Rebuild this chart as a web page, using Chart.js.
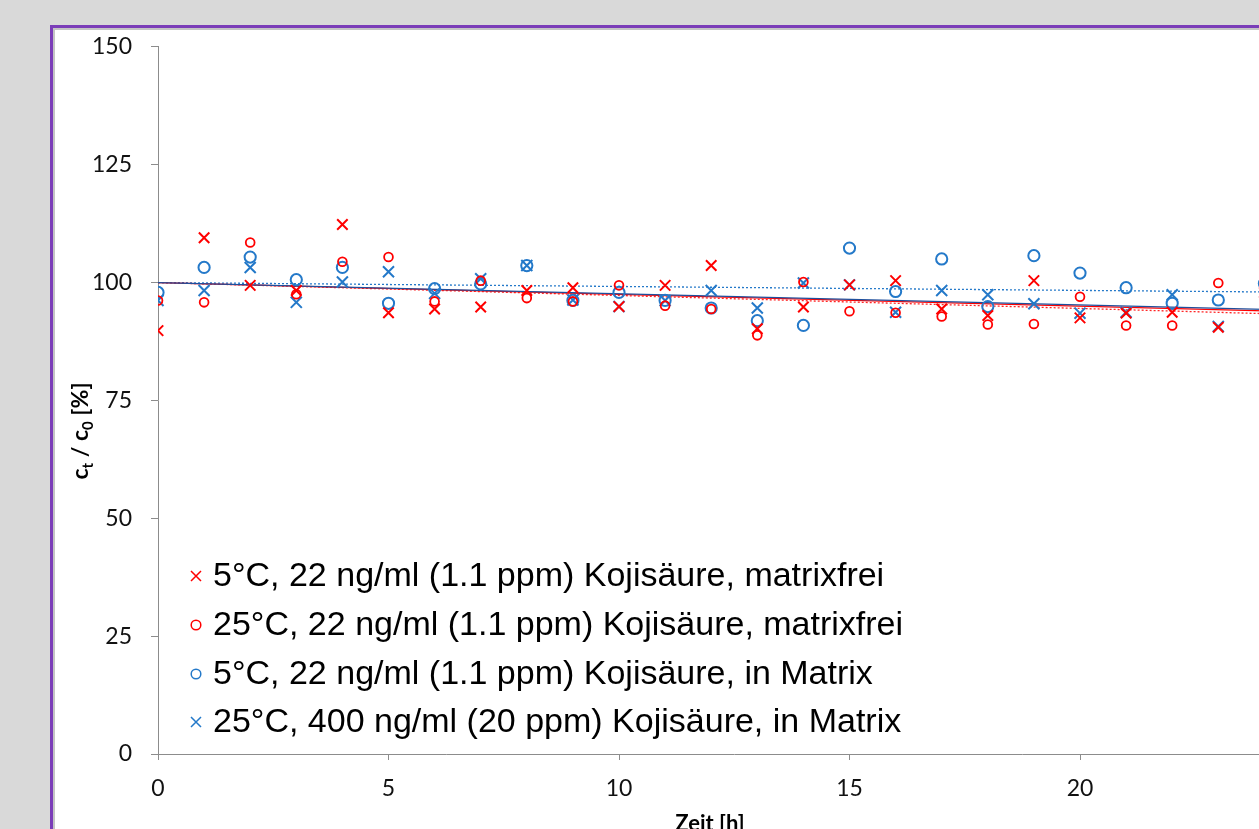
<!DOCTYPE html>
<html>
<head>
<meta charset="utf-8">
<script src="https://cdn.jsdelivr.net/npm/chart.js@4.4.1/dist/chart.umd.min.js"></script>
<style>
	html, body { margin: 0; padding: 0; width: 1259px; height: 829px; overflow: hidden; background: #d9d9d9; }
	#frame { position: absolute; left: 50px; top: 25px; width: 1400px; height: 1000px; box-sizing: border-box; border: 3px solid #7b3db8; background: #fff; }
	#inner { position: absolute; left: 0; top: 0; right: 0; bottom: 0; border: 2px solid #c4c4c4; }
	#wrap { position: absolute; left: 55px; top: 14px; width: 1300px; height: 846px; }
</style>
</head>
<body>
<div id="frame"><div id="inner"></div></div>
<div id="wrap"><canvas id="chart" width="1300" height="846"></canvas></div>
<script>
// Data (hours 0..24)
const hours = [0, 1, 2, 3, 4, 5, 6, 7, 8, 9, 10, 11, 12, 13, 14, 15, 16, 17, 18, 19, 20, 21, 22, 23, 24];
const red5Free = [89.8, 109.5, 99.4, 98.3, 112.3, 93.6, 94.4, 94.8, 98.3, 98.9, 94.9, 99.4, 103.6, 90.2, 94.8, 99.5, 100.4, 94.4, 93.0, 100.4, 92.5, 93.5, 93.7, 90.5, 97.9];
const red25Free = [96.2, 95.8, 108.5, 97.5, 104.4, 105.4, 96.0, 100.4, 96.7, 96.0, 99.4, 95.1, 94.4, 88.8, 100.1, 93.9, 93.6, 92.8, 91.1, 91.2, 97.0, 90.9, 90.9, 99.9, null];
const blue5Matrix = [97.9, 103.2, 105.4, 100.6, 103.2, 95.6, 98.7, 99.7, 103.6, 96.2, 97.9, 96.2, 94.6, 91.9, 90.9, 107.3, 98.1, 105.0, 94.9, 105.7, 102.0, 98.9, 95.6, 96.3, 99.8];
const blue25Matrix = [96.2, 98.3, 103.2, 95.8, 100.1, 102.3, 97.7, 100.8, 103.6, 96.3, 94.9, 96.2, 98.3, 94.6, 99.9, 99.5, 93.7, 98.3, 97.4, 95.5, 93.5, 93.7, 97.4, 90.7, null];
const labels = [
	'5°C, 22 ng/ml (1.1 ppm) Kojisäure, matrixfrei',
	'25°C, 22 ng/ml (1.1 ppm) Kojisäure, matrixfrei',
	'5°C, 22 ng/ml (1.1 ppm) Kojisäure, in Matrix',
	'25°C, 400 ng/ml (20 ppm) Kojisäure, in Matrix'
];
// Trend lines: start and end
const trendHours = [0, 24];
const trendRed5 = [100, 94.0];
const trendRed25 = [100, 93.4];
const trendBlue5 = [100, 98.0];
const trendBlue25 = [100, 94.3];
const yTicks = [0, 25, 50, 75, 100, 125, 150];
const xTicks = [0, 5, 10, 15, 20, 25];

const RED = '#ff0000';
const BLUE = '#2479c9';

let points = (arr) => hours.map((h, i) => ({x: h, y: arr[i]})).filter(p => p.y !== null);
let trend = (arr) => trendHours.map((h, i) => ({x: h, y: arr[i]}));

let scatterSet = (label, arr, color, style, radius, width) => ({
	type: 'scatter',
	label: label,
	data: points(arr),
	pointStyle: style,
	pointRadius: radius,
	pointBorderWidth: width,
	borderColor: color,
	pointBackgroundColor: 'rgba(0,0,0,0)',
	backgroundColor: 'rgba(0,0,0,0)',
	order: 1
});
let trendSet = (arr, color, dash, order) => ({
	type: 'line',
	label: '',
	data: trend(arr),
	borderColor: color,
	borderWidth: 1.3,
	borderDash: dash,
	pointRadius: 0,
	fill: false,
	order: order
});

const series = [
	scatterSet(labels[0], red5Free, RED, 'crossRot', 7.4, 2),
	scatterSet(labels[1], red25Free, RED, 'circle', 4.4, 1.8),
	scatterSet(labels[2], blue5Matrix, BLUE, 'circle', 5.6, 2),
	scatterSet(labels[3], blue25Matrix, BLUE, 'crossRot', 7.8, 2)
];

// Legend inside the plot, bottom left
const innerLegend = {
	id: 'innerLegend',
	afterDraw(chart) {
		const ctx = chart.ctx;
		const rows = [562, 611, 660, 708];
		ctx.save();
		series.forEach((ds, i) => {
			let x = 141, y = rows[i];
			ctx.strokeStyle = ds.borderColor;
			ctx.lineWidth = 1.5;
			ctx.beginPath();
			if (ds.pointStyle === 'circle') {
				ctx.arc(x, y, 4.8, 0, Math.PI * 2);
			} else {
				ctx.moveTo(x - 5, y - 5); ctx.lineTo(x + 5, y + 5);
				ctx.moveTo(x - 5, y + 5); ctx.lineTo(x + 5, y - 5);
			}
			ctx.stroke();
			ctx.fillStyle = '#000';
			ctx.font = '34px "Liberation Sans", Arial, sans-serif';
			ctx.textBaseline = 'middle';
			ctx.textAlign = 'left';
			ctx.fillText(ds.label, 158, y + 1);
		});
		ctx.restore();
	}
};

// Axis titles (the y title has subscripts)
const axisTitles = {
	id: 'axisTitles',
	afterDraw(chart) {
		const ctx = chart.ctx;
		const big = 'bold 23px Lato, sans-serif';
		const small = 'bold 15px Lato, sans-serif';
		const parts = [['c', big, 0], ['t', small, 5], [' / c', big, 0], ['0', small, 5], [' [%]', big, 0]];
		ctx.save();
		ctx.fillStyle = '#000';
		let total = 0;
		parts.forEach(p => { ctx.font = p[1]; total += ctx.measureText(p[0]).width; });
		ctx.translate(32.5, 417);
		ctx.rotate(-Math.PI / 2);
		ctx.textBaseline = 'alphabetic';
		let x = -total / 2;
		parts.forEach(p => {
			ctx.font = p[1];
			ctx.fillText(p[0], x, p[2]);
			x += ctx.measureText(p[0]).width;
		});
		ctx.restore();

		ctx.save();
		ctx.fillStyle = '#000';
		ctx.font = 'bold 22px Lato, sans-serif';
		ctx.textAlign = 'center';
		ctx.textBaseline = 'alphabetic';
		ctx.fillText('Zeit [h]', 655, 817);
		ctx.restore();
	}
};

new Chart(document.getElementById('chart'), {
	type: 'scatter',
	data: {
		datasets: series.concat([
			trendSet(trendRed25, 'rgba(255,0,0,0.85)', [2, 2], 5),
			trendSet(trendBlue5, BLUE, [2, 2], 4),
			trendSet(trendRed5, RED, [], 3),
			trendSet(trendBlue25, '#1f4f9c', [], 2)
		])
	},
	options: {
		responsive: false,
		animation: false,
		events: [],
		layout: {
			padding: {left: 0, top: 0, right: 44.5, bottom: 0}
		},
		plugins: {
			legend: {display: false},
			tooltip: {enabled: false}
		},
		scales: {
			x: {
				type: 'linear',
				min: 0,
				max: 25,
				afterFit: (scale) => { scale.height = 106; },
				afterBuildTicks: (scale) => { scale.ticks = xTicks.map(v => ({value: v})); },
				border: {color: '#8c8c8c', width: 1},
				grid: {drawOnChartArea: false, drawTicks: true, tickLength: 6, color: '#8c8c8c'},
				ticks: {
					color: '#111',
					padding: 15,
					maxRotation: 0,
					font: {family: 'Lato', size: 23}
				}
			},
			y: {
				type: 'linear',
				min: 0,
				max: 150,
				afterFit: (scale) => { scale.width = 103; },
				afterBuildTicks: (scale) => { scale.ticks = yTicks.map(v => ({value: v})); },
				border: {color: '#8c8c8c', width: 1},
				grid: {drawOnChartArea: false, drawTicks: true, tickLength: 7, color: '#8c8c8c'},
				ticks: {
					color: '#111',
					padding: 19,
					font: {family: 'Lato', size: 23}
				}
			}
		}
	},
	plugins: [innerLegend, axisTitles]
});
</script>
</body>
</html>
